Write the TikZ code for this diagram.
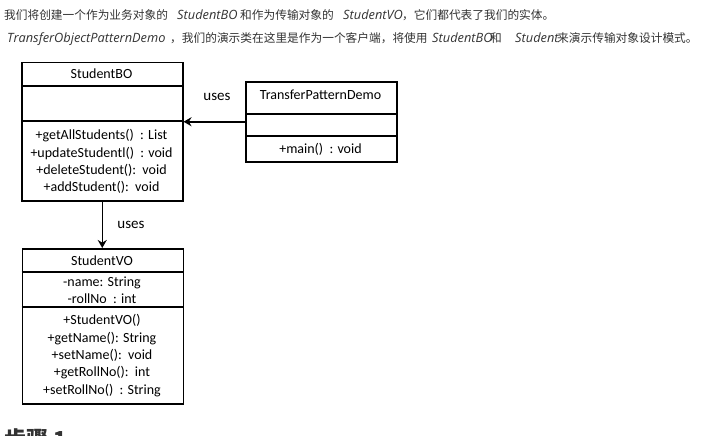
\documentclass[tikz,border=0pt]{standalone}
\usepackage{fontspec}
\setmainfont{Carlito}
\newfontfamily\cjk{Noto Sans CJK SC}
\newfontfamily\lit{Open Sans}
\usetikzlibrary{arrows.meta}
\definecolor{txt}{HTML}{333333}
\tikzset{
  umlbox/.style={draw=black, line width=1.5pt, anchor=north west, inner sep=0pt},
  boxtext/.style={font=\fontsize{14}{17.3}\selectfont, align=center, inner sep=0pt, text=black},
  zh/.style={anchor=base west, inner sep=0pt, text=txt, font=\cjk\fontsize{11.7}{14}\selectfont},
  en/.style={anchor=base west, inner sep=0pt, text=txt, font=\lit\itshape\fontsize{12.8}{14}\selectfont},
  conn/.style={line width=1.5pt, -{Stealth[length=8pt,width=9pt]}},
  lbl/.style={font=\fontsize{15}{16}\selectfont, inner sep=0pt}
}
\begin{document}
\begin{tikzpicture}[x=1pt,y=-1pt]
\useasboundingbox[fill=white] (0,0) rectangle (728,436);
% paragraph line 1
\node[zh] (a1) at (4,20) {我们将创建一个作为业务对象的};
\node[en] (a2) at (177,20) {StudentBO};
\node[zh] (a3) at (240,20) {和作为传输对象的};
\node[en] (a4) at (343,20) {StudentVO};
\node[zh] (a5) at (402,20) {，它们都代表了我们的实体。};
% paragraph line 2
\node[en] (b1) at (7,43) {TransferObjectPatternDemo};
\node[zh] (b2) at (170,43) {，我们的演示类在这里是作为一个客户端，将使用};
\node[en] (b3) at (432,43) {StudentBO};
\node[zh] (b4) at (490,43) {和};
\node[en] (b5) at (515,43) {Student};
\node[zh] (b6) at (557,43) {来演示传输对象设计模式。};
% StudentBO
\node[umlbox, minimum width=161, minimum height=138] (bo) at (21,62) {};
\draw[line width=1.5pt] (21,86) -- (182,86);
\draw[line width=1.5pt] (21,121) -- (182,121);
\node[boxtext] (bot) at (101.5,74) {StudentBO};
\node[boxtext] (bom) at (101.5,161.7) {+getAllStudents()\ \ : List\\+updateStudentl()\ \ : void\\+deleteStudent():\ \ void\\+addStudent():\ \ void};
% TransferPatternDemo
\node[umlbox, minimum width=151, minimum height=80] (tpd) at (245,81) {};
\draw[line width=1.5pt] (245,114) -- (396,114);
\draw[line width=1.5pt] (245,136) -- (396,136);
\node[boxtext] (tpdt) at (320.5,95) {TransferPatternDemo};
\node[boxtext] (tpdm) at (320.5,149.5) {+main()\ \ : void};
% StudentVO
\node[umlbox, minimum width=161, minimum height=155] (vo) at (21.5,248) {};
\draw[line width=1.5pt] (21.5,272) -- (182.5,272);
\draw[line width=1.5pt] (21.5,307) -- (182.5,307);
\node[boxtext] (vot) at (102,261) {StudentVO};
\node[boxtext] (voa) at (102,290) {-name: String\\-rollNo\ \ : int};
\node[boxtext] (vom) at (102,355.5) {+StudentVO()\\+getName(): String\\+setName():\ \ void\\+getRollNo():\ \ int\\+setRollNo()\ \ : String};
% connectors
\draw[conn] (tpd.west) -- (bo.east |- tpd.west);
\node[lbl] (u1) at (217,97) {uses};
\draw[conn] (bo.south) -- (bo.south |- vo.north);
\node[lbl] (u2) at (131,224.5) {uses};
% cut heading
\node[anchor=base west, inner sep=0pt, text=txt, font=\cjk\bfseries\fontsize{22}{24}\selectfont] (h) at (4,447) {步骤 1};
\end{tikzpicture}
\end{document}
